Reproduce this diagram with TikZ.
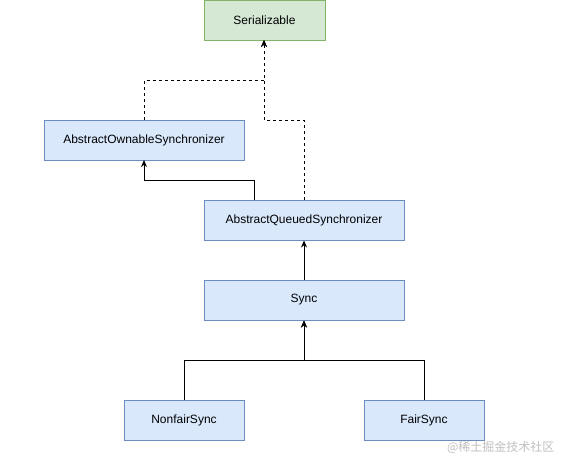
\documentclass[tikz,border=0pt]{standalone}
\usepackage{fontspec}
\setmainfont{Liberation Sans}
\newfontfamily\cjkfont{Noto Sans CJK SC}
\usetikzlibrary{arrows.meta}
\definecolor{bfill}{HTML}{DAE8FC}
\definecolor{bline}{HTML}{6C8EBF}
\definecolor{gfill}{HTML}{D5E8D4}
\definecolor{gline}{HTML}{82B366}
\begin{document}
\begin{tikzpicture}[x=1pt,y=-1pt,
  cls/.style={draw=bline,fill=bfill,line width=1pt,minimum height=40pt,inner sep=0pt,font=\fontsize{12}{14}\selectfont},
  iface/.style={cls,draw=gline,fill=gfill},
  conn/.style={line width=1pt,-{Stealth[length=7pt,width=6pt]}},
  dconn/.style={conn,dash pattern=on 3pt off 3pt}]
\useasboundingbox (0,0) rectangle (571,467);
\node[iface,minimum width=121pt] (ser) at (264.5,20) {Serializable};
\node[cls,minimum width=200pt] (aos) at (144,140) {AbstractOwnableSynchronizer};
\node[cls,minimum width=200pt] (aqs) at (304,220) {AbstractQueuedSynchronizer};
\node[cls,minimum width=200pt] (sync) at (304,300) {Sync};
\node[cls,minimum width=120pt] (nfs) at (184,420) {NonfairSync};
\node[cls,minimum width=120pt] (fs) at (424,420) {FairSync};
\node[text=black!25,font=\cjkfont\fontsize{12}{14}\selectfont,anchor=east] (wm) at (558,447) {@稀土掘金技术社区};
\coordinate (serin) at (264,40);
\coordinate (aosin) at (144,160);
\draw[dconn] (aos.north) |- (264,80) -- (serin);
\draw[dconn] (aqs.north) |- (264,120) -- (serin);
\draw[conn] (254,200) |- (144,180) -- (aosin);
\draw[conn] (sync.north) -- (aqs.south);
\draw[conn] (nfs.north) |- (304,360) -- (sync.south);
\draw[conn] (fs.north) |- (304,360) -- (sync.south);
\end{tikzpicture}
\end{document}
